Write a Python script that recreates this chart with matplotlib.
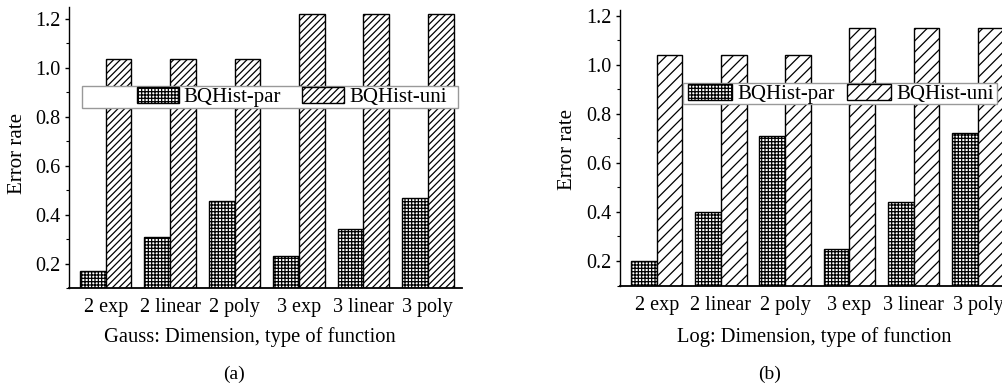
import numpy as np
import matplotlib
matplotlib.use("Agg")
import matplotlib.pyplot as plt
from matplotlib.patches import Rectangle

plt.rcParams["font.family"] = ["Liberation Serif", "DejaVu Serif"]
plt.rcParams["hatch.linewidth"] = 0.9

categories = ["2 exp", "2 linear", "2 poly", "3 exp", "3 linear", "3 poly"]

gauss_par = [0.17, 0.31, 0.455, 0.23, 0.34, 0.47]
gauss_uni = [1.035, 1.035, 1.035, 1.22, 1.22, 1.22]

log_par = [0.20, 0.40, 0.71, 0.25, 0.44, 0.72]
log_uni = [1.04, 1.04, 1.04, 1.15, 1.15, 1.15]

W, H = 1003, 385
fig = plt.figure(figsize=(W / 100, H / 100), dpi=100)


def px(x0, y_top, x1, y_bot):
    return [x0 / W, 1 - y_bot / H, (x1 - x0) / W, (y_bot - y_top) / H]


def draw_panel(ax, par, uni, ylim, uni_hatch):
    x = np.arange(len(categories))
    w = 0.4
    b1 = ax.bar(x - w / 2, par, w, bottom=0, color="white", edgecolor="black",
                hatch="+++++", linewidth=1.0)
    b2 = ax.bar(x + w / 2, uni, w, bottom=0, color="white", edgecolor="black",
                hatch=uni_hatch, linewidth=1.0)
    ax.set_xlim(-0.57, 5.53)
    ax.set_ylim(*ylim)
    ax.set_xticks(x)
    ax.set_xticklabels(categories)
    ax.set_yticks([0.2, 0.4, 0.6, 0.8, 1.0, 1.2])
    ax.set_yticks(np.arange(0.1, 1.25, 0.1), minor=True)
    ax.tick_params(axis="x", length=0, pad=7, labelsize=14.5)
    ax.tick_params(axis="y", which="major", length=3, width=1, pad=3, labelsize=14.5)
    ax.tick_params(axis="y", which="minor", length=2, width=0.8)
    ax.spines["top"].set_visible(False)
    ax.spines["right"].set_visible(False)
    ax.spines["left"].set_linewidth(1.0)
    ax.spines["bottom"].set_linewidth(1.3)
    return b1, b2


ax1 = fig.add_axes(px(69, 7, 462, 288))
h1 = draw_panel(ax1, gauss_par, gauss_uni, (0.102, 1.249), "/////")
ax2 = fig.add_axes(px(620, 10, 1012, 286))
h2 = draw_panel(ax2, log_par, log_uni, (0.098, 1.223), "///")

# legends with a separate white frame
ax1.add_patch(Rectangle((82 / W, 1 - 108 / H), (458 - 82) / W, 22 / H,
                        transform=fig.transFigure, facecolor="white",
                        edgecolor="#999999", linewidth=1.0, zorder=4,
                        clip_on=False))
lg1 = ax1.legend(h1, ["BQHist-par", "BQHist-uni"], ncol=2, frameon=False,
                 fontsize=15, loc="center left",
                 bbox_to_anchor=(137 / W, 1 - 97 / H),
                 bbox_transform=fig.transFigure, handlelength=2.0,
                 handleheight=0.82, handletextpad=0.25, columnspacing=1.0,
                 borderpad=0, borderaxespad=0)

ax2.add_patch(Rectangle((683 / W, 1 - 104 / H), (997 - 683) / W, 21 / H,
                        transform=fig.transFigure, facecolor="white",
                        edgecolor="#999999", linewidth=1.0, zorder=4,
                        clip_on=False))
lg2 = ax2.legend(h2, ["BQHist-par", "BQHist-uni"], ncol=2, frameon=False,
                 fontsize=15, loc="center left",
                 bbox_to_anchor=(688 / W, 1 - 94 / H),
                 bbox_transform=fig.transFigure, handlelength=2.1,
                 handleheight=0.82, handletextpad=0.25, columnspacing=0.6,
                 borderpad=0, borderaxespad=0)

for lg in (lg1, lg2):
    lg.set_zorder(5)

fig.text(18 / W, 1 - 153 / H, "Error rate", rotation=90, ha="center",
         va="center", fontsize=15)
fig.text(567 / W, 1 - 150 / H, "Error rate", rotation=90, ha="center",
         va="center", fontsize=15)
fig.text(250 / W, 1 - 337 / H, "Gauss: Dimension, type of function",
         ha="center", va="center", fontsize=14.8)
fig.text(814 / W, 1 - 337 / H, "Log: Dimension, type of function",
         ha="center", va="center", fontsize=14.8)
fig.text(234 / W, 1 - 374 / H, "(a)", ha="center", va="center", fontsize=14)
fig.text(770 / W, 1 - 374 / H, "(b)", ha="center", va="center", fontsize=14)

fig.savefig("out.png", dpi=100)
